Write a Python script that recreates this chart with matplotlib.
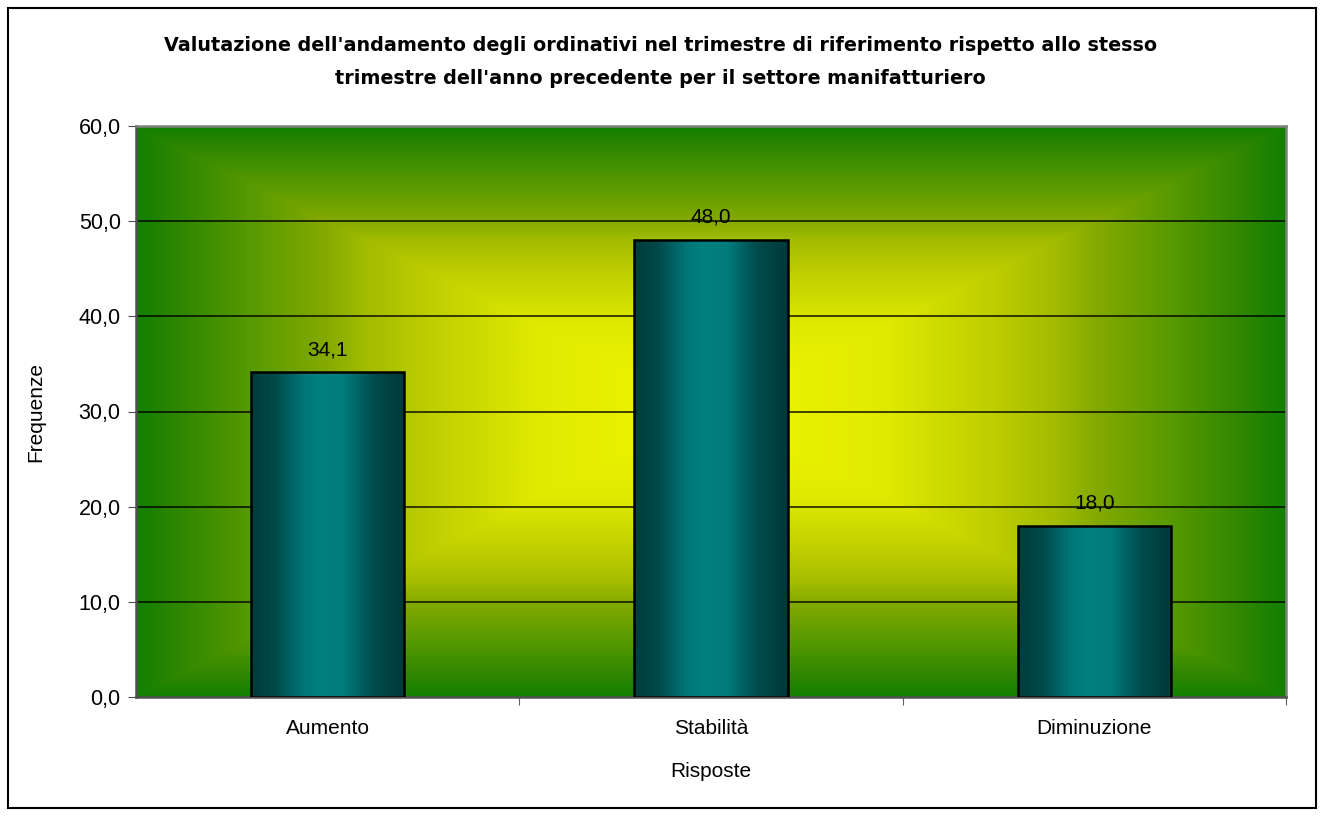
import numpy as np
import matplotlib
matplotlib.use("Agg")
import matplotlib.pyplot as plt
from matplotlib.colors import LinearSegmentedColormap
from matplotlib.patches import Rectangle

# Data
categorie = ['Aumento', 'Stabilità', 'Diminuzione']
frequenze = [34.1, 48.0, 18.0]
etichette = ['34,1', '48,0', '18,0']
y_ticks = [0, 10, 20, 30, 40, 50, 60]

plt.rcParams['font.family'] = ['Liberation Sans', 'DejaVu Sans']

fig = plt.figure(figsize=(13.21, 8.16), dpi=100)
ax = fig.add_axes([136 / 1321, 1 - 697 / 816, 1150 / 1321, 571 / 816])

# background: rectangular gradient from yellow centre to green edges
ny, nx = 400, 800
yy, xx = np.mgrid[-1:1:ny * 1j, -1:1:nx * 1j]
t = np.maximum(np.abs(xx), np.abs(yy))
bg_cmap = LinearSegmentedColormap.from_list('bg', [
    (0.0, '#f2f800'), (0.3, '#e0ea00'), (0.5, '#bccc00'), (0.6, '#a2bc00'),
    (0.67, '#84aa00'), (0.8, '#589a00'), (0.93, '#2e8600'), (1.0, '#128000')])
ax.imshow(t, cmap=bg_cmap, extent=[-0.5, 2.5, 0, 60], aspect='auto',
          origin='lower', zorder=0, interpolation='bilinear')

# gridlines
for v in y_ticks[1:-1]:
    ax.axhline(v, color='black', lw=1.2, alpha=0.85, zorder=1)

bars = ax.bar(range(len(categorie)), frequenze, width=0.4, facecolor='none',
              edgecolor='black', linewidth=1.8, zorder=3)

# bars: horizontal gradient, dark edges, teal middle
bar_cmap = LinearSegmentedColormap.from_list('bar', [
    (0.0, '#003c3c'), (0.15, '#004848'), (0.35, '#007878'), (0.45, '#008080'),
    (0.6, '#007c7c'), (0.8, '#004c4c'), (1.0, '#003838')])
grad = np.linspace(0, 1, 256).reshape(1, -1)
for rect in bars:
    x0, y0 = rect.get_x(), rect.get_y()
    w, h = rect.get_width(), rect.get_height()
    im = ax.imshow(grad, cmap=bar_cmap, extent=[x0, x0 + w, y0, y0 + h],
                   aspect='auto', zorder=2, interpolation='bilinear')
    im.set_clip_path(rect)

for i, (v, lab) in enumerate(zip(frequenze, etichette)):
    ax.annotate(lab, (i, v), xytext=(0, 16.5), textcoords='offset points',
                ha='center', va='center', fontsize=15, zorder=4)

ax.set_xlim(-0.5, 2.5)
ax.set_ylim(0, 60)
ax.set_yticks(y_ticks)
ax.set_yticklabels([f'{v:.1f}'.replace('.', ',') for v in y_ticks], fontsize=15.5)
ax.set_xticks([0.5, 1.5, 2.5], minor=False)
ax.set_xticklabels([])
ax.set_xticks(range(len(categorie)), minor=True)
ax.set_xticklabels(categorie, minor=True, fontsize=15)
ax.tick_params(axis='x', which='minor', length=0, pad=16)
ax.tick_params(axis='x', which='major', length=6, color='#606060')
ax.tick_params(axis='y', length=6, color='#505050', pad=5)

for s in ax.spines.values():
    s.set_color('#808080')
    s.set_linewidth(1.8)
ax.spines['left'].set_color('#505050')
ax.spines['bottom'].set_color('#505050')

ax.set_xlabel('Risposte', fontsize=15, labelpad=17)
ax.set_ylabel('Frequenze', fontsize=15, labelpad=24)

fig.text(0.5, 1 - 62 / 816,
         "Valutazione dell'andamento degli ordinativi nel trimestre di riferimento rispetto allo stesso\n"
         "trimestre dell'anno precedente per il settore manifatturiero",
         ha='center', va='center', fontsize=13.8, fontweight='bold',
         family=['DejaVu Sans'], linespacing=1.95)

# outer chart border
fig.patches.append(Rectangle((8 / 1321, 8 / 816), 1308 / 1321, 800 / 816,
                             transform=fig.transFigure, fill=False,
                             edgecolor='black', linewidth=1.5))

fig.savefig('out.png', dpi=100)
